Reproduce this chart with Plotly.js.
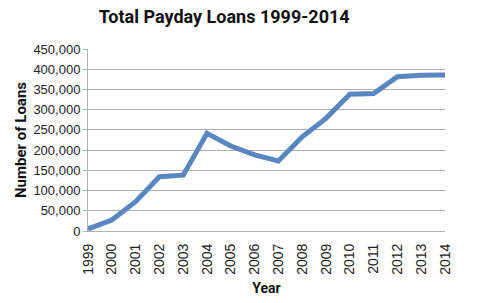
<!DOCTYPE html>
<html>
<head>
<meta charset="utf-8">
<script src="https://cdn.plot.ly/plotly-3.0.1.min.js"></script>
<style>html,body{margin:0;padding:0;background:#fff;}#chart{width:478px;height:303px;}</style>
</head>
<body>
<div id="chart"></div>
<script>
const years = ["1999","2000","2001","2002","2003","2004","2005","2006","2007","2008","2009","2010","2011","2012","2013","2014"];
const loans = [5000,27000,72500,134000,138000,241500,210000,188000,173000,233000,278500,338000,340000,381500,385000,386000];
const yTicks = [0,50000,100000,150000,200000,250000,300000,350000,400000,450000];
const yTickText = ["0","50,000","100,000","150,000","200,000","250,000","300,000","350,000","400,000","450,000"];

const trace = {
  x: years, y: loans, type: 'scatter', mode: 'lines',
  line: {color: '#5886c0', width: 5}, hoverinfo: 'skip'
};
const layout = {
  width: 478, height: 303,
  margin: {l: 88, r: 33, t: 49, b: 72},
  paper_bgcolor: '#fff', plot_bgcolor: '#fff',
  showlegend: false,
  title: {text: '<b>Total Payday Loans 1999-2014</b>', font: {family: 'Roboto, sans-serif', size: 18, color: '#111'}, x: 0.469, xanchor: 'center', y: 0.945, yanchor: 'middle'},
  xaxis: {
    type: 'category', tickangle: -90,
    tickfont: {family: 'Liberation Sans, Arial, sans-serif', size: 14, color: '#222'},
    showgrid: false, showline: true, linecolor: '#b0b0b0', linewidth: 1,
    ticks: '', zeroline: false, ticklabelstandoff: 6,
    title: {text: '<b>Year</b>', font: {family: 'Roboto, sans-serif', size: 14, color: '#111'}, standoff: 9}
  },
  yaxis: {
    range: [0, 450000], tickvals: yTicks, ticktext: yTickText,
    tickfont: {family: 'Liberation Sans, Arial, sans-serif', size: 13, color: '#222'},
    showgrid: true, gridcolor: '#b0b0b0', gridwidth: 1,
    showline: true, linecolor: '#b0b0b0', linewidth: 1,
    ticks: 'outside', ticklen: 4, tickcolor: '#b0b0b0', zeroline: false,
    title: {text: '<b>Number of Loans</b>', font: {family: 'Roboto, sans-serif', size: 15, color: '#111'}, standoff: 3}
  }
};
Plotly.newPlot('chart', [trace], layout, {staticPlot: true, displayModeBar: false});
</script>
</body>
</html>
